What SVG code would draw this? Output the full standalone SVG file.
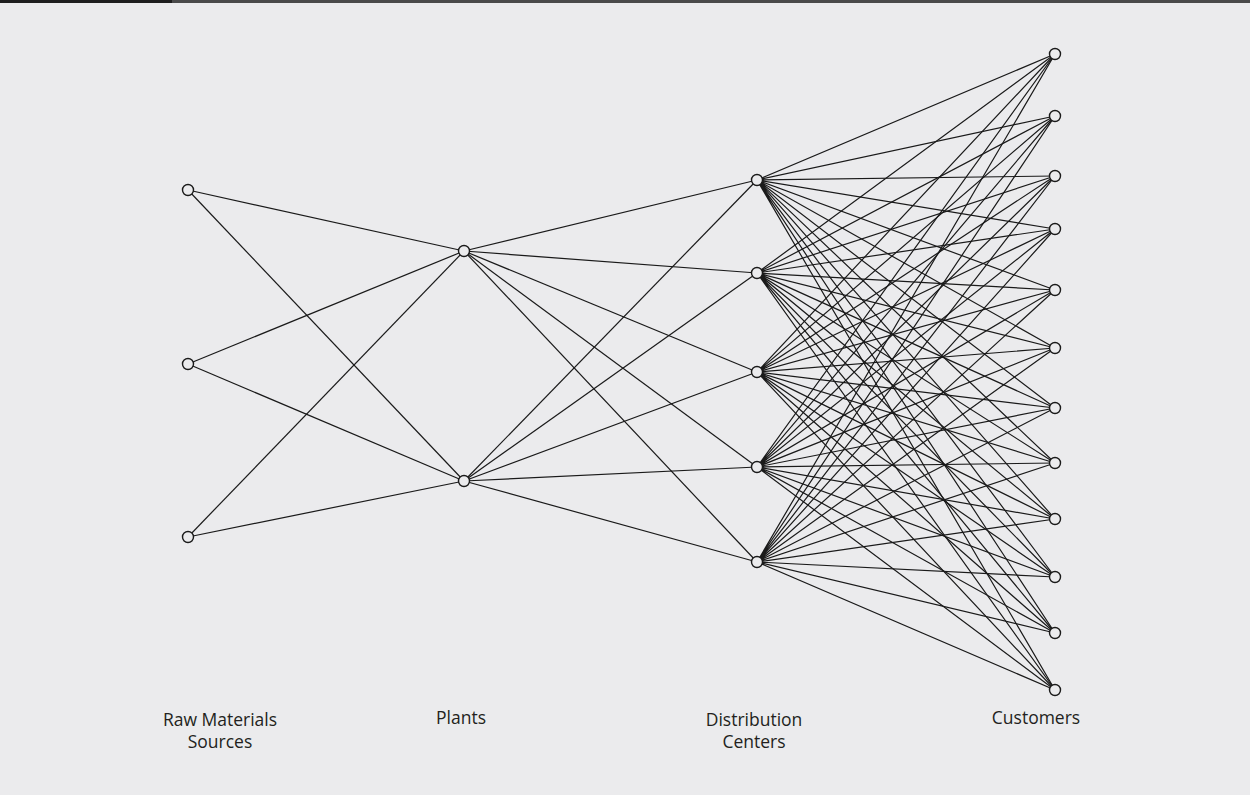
<svg xmlns="http://www.w3.org/2000/svg" width="1250" height="795" viewBox="0 0 1250 795">
  <style>
    .edge { stroke: #1a1a1a; stroke-width: 1.2; fill: none; }
    .node { fill: #ebebed; stroke: #1a1a1a; stroke-width: 1.4; }
    .label { font-family: "Open Sans", "Liberation Sans", sans-serif; font-size: 17.5px; fill: #231f20; text-anchor: middle; }
  </style>
  <rect x="0" y="0" width="1250" height="795" fill="#ebebed"/>
  <rect x="0" y="0" width="1250" height="3" fill="#4a4a4a"/>
  <rect x="0" y="0" width="172" height="3" fill="#1e1e1e"/>

  <g id="connectors">
    <!-- raw materials to plants -->
    <line class="edge" x1="188" y1="190" x2="464" y2="251"/>
    <line class="edge" x1="188" y1="190" x2="464" y2="481"/>
    <line class="edge" x1="188" y1="364" x2="464" y2="251"/>
    <line class="edge" x1="188" y1="364" x2="464" y2="481"/>
    <line class="edge" x1="188" y1="537" x2="464" y2="251"/>
    <line class="edge" x1="188" y1="537" x2="464" y2="481"/>
    <!-- plants to distribution centers -->
    <line class="edge" x1="464" y1="251" x2="757" y2="180"/>
    <line class="edge" x1="464" y1="251" x2="757" y2="273"/>
    <line class="edge" x1="464" y1="251" x2="757" y2="372"/>
    <line class="edge" x1="464" y1="251" x2="757" y2="467"/>
    <line class="edge" x1="464" y1="251" x2="757" y2="562"/>
    <line class="edge" x1="464" y1="481" x2="757" y2="180"/>
    <line class="edge" x1="464" y1="481" x2="757" y2="273"/>
    <line class="edge" x1="464" y1="481" x2="757" y2="372"/>
    <line class="edge" x1="464" y1="481" x2="757" y2="467"/>
    <line class="edge" x1="464" y1="481" x2="757" y2="562"/>
    <!-- distribution centers to customers -->
    <g id="dc-customer-edges">
      <path class="edge" d="M757 180L1055 54M757 180L1055 116M757 180L1055 176M757 180L1055 229M757 180L1055 290M757 180L1055 348M757 180L1055 408M757 180L1055 463M757 180L1055 519M757 180L1055 577M757 180L1055 633M757 180L1055 690"/>
      <path class="edge" d="M757 273L1055 54M757 273L1055 116M757 273L1055 176M757 273L1055 229M757 273L1055 290M757 273L1055 348M757 273L1055 408M757 273L1055 463M757 273L1055 519M757 273L1055 577M757 273L1055 633M757 273L1055 690"/>
      <path class="edge" d="M757 372L1055 54M757 372L1055 116M757 372L1055 176M757 372L1055 229M757 372L1055 290M757 372L1055 348M757 372L1055 408M757 372L1055 463M757 372L1055 519M757 372L1055 577M757 372L1055 633M757 372L1055 690"/>
      <path class="edge" d="M757 467L1055 54M757 467L1055 116M757 467L1055 176M757 467L1055 229M757 467L1055 290M757 467L1055 348M757 467L1055 408M757 467L1055 463M757 467L1055 519M757 467L1055 577M757 467L1055 633M757 467L1055 690"/>
      <path class="edge" d="M757 562L1055 54M757 562L1055 116M757 562L1055 176M757 562L1055 229M757 562L1055 290M757 562L1055 348M757 562L1055 408M757 562L1055 463M757 562L1055 519M757 562L1055 577M757 562L1055 633M757 562L1055 690"/>
    </g>
  </g>

  <g id="raw-1"><circle class="node" cx="188" cy="190" r="5.5"/></g>
  <g id="raw-2"><circle class="node" cx="188" cy="364" r="5.5"/></g>
  <g id="raw-3"><circle class="node" cx="188" cy="537" r="5.5"/></g>

  <g id="plant-1"><circle class="node" cx="464" cy="251" r="5.5"/></g>
  <g id="plant-2"><circle class="node" cx="464" cy="481" r="5.5"/></g>

  <g id="dc-1"><circle class="node" cx="757" cy="180" r="5.5"/></g>
  <g id="dc-2"><circle class="node" cx="757" cy="273" r="5.5"/></g>
  <g id="dc-3"><circle class="node" cx="757" cy="372" r="5.5"/></g>
  <g id="dc-4"><circle class="node" cx="757" cy="467" r="5.5"/></g>
  <g id="dc-5"><circle class="node" cx="757" cy="562" r="5.5"/></g>

  <g id="customer-1"><circle class="node" cx="1055" cy="54" r="5.5"/></g>
  <g id="customer-2"><circle class="node" cx="1055" cy="116" r="5.5"/></g>
  <g id="customer-3"><circle class="node" cx="1055" cy="176" r="5.5"/></g>
  <g id="customer-4"><circle class="node" cx="1055" cy="229" r="5.5"/></g>
  <g id="customer-5"><circle class="node" cx="1055" cy="290" r="5.5"/></g>
  <g id="customer-6"><circle class="node" cx="1055" cy="348" r="5.5"/></g>
  <g id="customer-7"><circle class="node" cx="1055" cy="408" r="5.5"/></g>
  <g id="customer-8"><circle class="node" cx="1055" cy="463" r="5.5"/></g>
  <g id="customer-9"><circle class="node" cx="1055" cy="519" r="5.5"/></g>
  <g id="customer-10"><circle class="node" cx="1055" cy="577" r="5.5"/></g>
  <g id="customer-11"><circle class="node" cx="1055" cy="633" r="5.5"/></g>
  <g id="customer-12"><circle class="node" cx="1055" cy="690" r="5.5"/></g>

  <g id="labels">
    <text class="label" x="220" y="726">Raw Materials</text>
    <text class="label" x="220" y="748">Sources</text>
    <text class="label" x="461" y="724">Plants</text>
    <text class="label" x="754" y="726">Distribution</text>
    <text class="label" x="754" y="748">Centers</text>
    <text class="label" x="1036" y="724">Customers</text>
  </g>
</svg>
